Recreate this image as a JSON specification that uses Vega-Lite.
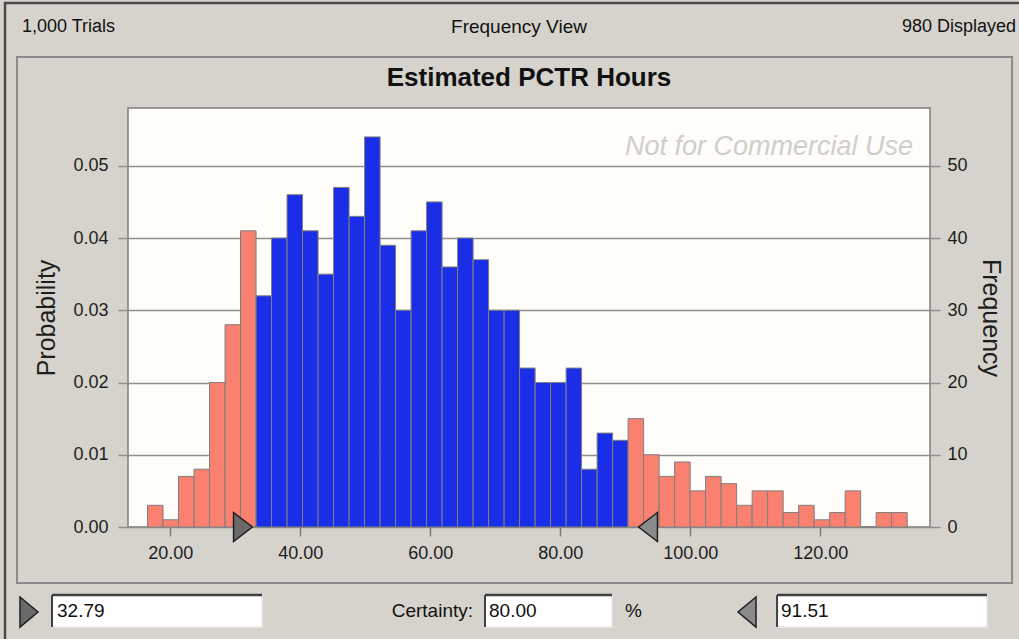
{
  "$schema": "https://vega.github.io/schema/vega-lite/v6.json",
  "width": 802,
  "height": 419,
  "autosize": {"type": "none"},
  "padding": {"left": 128, "top": 108, "right": 89, "bottom": 112},
  "background": "#d6d3cc",
  "config": {
    "view": {"fill": "#fefdf9", "stroke": "#7d7d7d", "strokeWidth": 1.5},
    "font": "Liberation Sans"
  },
  "datasets": {
    "bins": [
      {"lo": 16.50, "hi": 18.89, "count": 3, "zone": "tail"},
      {"lo": 18.89, "hi": 21.27, "count": 1, "zone": "tail"},
      {"lo": 21.27, "hi": 23.66, "count": 7, "zone": "tail"},
      {"lo": 23.66, "hi": 26.04, "count": 8, "zone": "tail"},
      {"lo": 26.04, "hi": 28.43, "count": 20, "zone": "tail"},
      {"lo": 28.43, "hi": 30.81, "count": 28, "zone": "tail"},
      {"lo": 30.81, "hi": 33.20, "count": 41, "zone": "tail"},
      {"lo": 33.20, "hi": 35.58, "count": 32, "zone": "certainty"},
      {"lo": 35.58, "hi": 37.97, "count": 40, "zone": "certainty"},
      {"lo": 37.97, "hi": 40.35, "count": 46, "zone": "certainty"},
      {"lo": 40.35, "hi": 42.74, "count": 41, "zone": "certainty"},
      {"lo": 42.74, "hi": 45.12, "count": 35, "zone": "certainty"},
      {"lo": 45.12, "hi": 47.51, "count": 47, "zone": "certainty"},
      {"lo": 47.51, "hi": 49.89, "count": 43, "zone": "certainty"},
      {"lo": 49.89, "hi": 52.28, "count": 54, "zone": "certainty"},
      {"lo": 52.28, "hi": 54.66, "count": 39, "zone": "certainty"},
      {"lo": 54.66, "hi": 57.05, "count": 30, "zone": "certainty"},
      {"lo": 57.05, "hi": 59.43, "count": 41, "zone": "certainty"},
      {"lo": 59.43, "hi": 61.82, "count": 45, "zone": "certainty"},
      {"lo": 61.82, "hi": 64.20, "count": 36, "zone": "certainty"},
      {"lo": 64.20, "hi": 66.59, "count": 40, "zone": "certainty"},
      {"lo": 66.59, "hi": 68.97, "count": 37, "zone": "certainty"},
      {"lo": 68.97, "hi": 71.36, "count": 30, "zone": "certainty"},
      {"lo": 71.36, "hi": 73.74, "count": 30, "zone": "certainty"},
      {"lo": 73.74, "hi": 76.13, "count": 22, "zone": "certainty"},
      {"lo": 76.13, "hi": 78.51, "count": 20, "zone": "certainty"},
      {"lo": 78.51, "hi": 80.90, "count": 20, "zone": "certainty"},
      {"lo": 80.90, "hi": 83.28, "count": 22, "zone": "certainty"},
      {"lo": 83.28, "hi": 85.67, "count": 8, "zone": "certainty"},
      {"lo": 85.67, "hi": 88.05, "count": 13, "zone": "certainty"},
      {"lo": 88.05, "hi": 90.44, "count": 12, "zone": "certainty"},
      {"lo": 90.44, "hi": 92.82, "count": 15, "zone": "tail"},
      {"lo": 92.82, "hi": 95.21, "count": 10, "zone": "tail"},
      {"lo": 95.21, "hi": 97.59, "count": 7, "zone": "tail"},
      {"lo": 97.59, "hi": 99.98, "count": 9, "zone": "tail"},
      {"lo": 99.98, "hi": 102.36, "count": 5, "zone": "tail"},
      {"lo": 102.36, "hi": 104.75, "count": 7, "zone": "tail"},
      {"lo": 104.75, "hi": 107.13, "count": 6, "zone": "tail"},
      {"lo": 107.13, "hi": 109.52, "count": 3, "zone": "tail"},
      {"lo": 109.52, "hi": 111.90, "count": 5, "zone": "tail"},
      {"lo": 111.90, "hi": 114.29, "count": 5, "zone": "tail"},
      {"lo": 114.29, "hi": 116.67, "count": 2, "zone": "tail"},
      {"lo": 116.67, "hi": 119.06, "count": 3, "zone": "tail"},
      {"lo": 119.06, "hi": 121.44, "count": 1, "zone": "tail"},
      {"lo": 121.44, "hi": 123.83, "count": 2, "zone": "tail"},
      {"lo": 123.83, "hi": 126.21, "count": 5, "zone": "tail"},
      {"lo": 126.21, "hi": 128.60, "count": 0, "zone": "tail"},
      {"lo": 128.60, "hi": 130.98, "count": 2, "zone": "tail"},
      {"lo": 130.98, "hi": 133.37, "count": 2, "zone": "tail"}
    ],
    "one": [{}]
  },
  "resolve": {"scale": {"y": "independent"}, "axis": {"x": "independent", "y": "independent"}},
  "layer": [
    {
      "data": {"name": "one"},
      "mark": {"type": "rect", "filled": false, "stroke": "#4a4a4a", "strokeWidth": 2.5, "clip": false},
      "encoding": {
        "x": {"datum": -5.42, "type": "quantitative", "scale": {"domain": [13.5, 136.88], "nice": false, "zero": false}, "axis": null},
        "x2": {"datum": 155},
        "y": {"datum": 72.53, "type": "quantitative", "scale": {"domain": [0, 58], "nice": false, "zero": false}, "axis": null},
        "y2": {"datum": -20}
      }
    },
    {
      "data": {"name": "one"},
      "mark": {"type": "rect", "filled": false, "stroke": "#8a8a8a", "strokeWidth": 2, "clip": false},
      "encoding": {
        "x": {"datum": -3.58, "type": "quantitative", "scale": {"domain": [13.5, 136.88], "nice": false, "zero": false}, "axis": null},
        "x2": {"datum": 149.5},
        "y": {"datum": 65.06, "type": "quantitative", "scale": {"domain": [0, 58], "nice": false, "zero": false}, "axis": null},
        "y2": {"datum": -7.75}
      }
    },
    {
      "data": {"values": [{"label": "1,000 Trials"}]},
      "mark": {"type": "text", "align": "left", "baseline": "middle", "fontSize": 18, "color": "#111111", "clip": false},
      "encoding": {
        "x": {"datum": -2.81, "type": "quantitative", "scale": {"domain": [13.5, 136.88], "nice": false, "zero": false}, "axis": null},
        "y": {"datum": 69.21, "type": "quantitative", "scale": {"domain": [0, 58], "nice": false, "zero": false}, "axis": null},
        "text": {"field": "label"}
      }
    },
    {
      "data": {"values": [{"label": "Frequency View"}]},
      "mark": {"type": "text", "align": "center", "baseline": "middle", "fontSize": 19, "color": "#111111", "clip": false},
      "encoding": {
        "x": {"datum": 73.65, "type": "quantitative", "scale": {"domain": [13.5, 136.88], "nice": false, "zero": false}, "axis": null},
        "y": {"datum": 69.21, "type": "quantitative", "scale": {"domain": [0, 58], "nice": false, "zero": false}, "axis": null},
        "text": {"field": "label"}
      }
    },
    {
      "data": {"values": [{"label": "980 Displayed"}]},
      "mark": {"type": "text", "align": "right", "baseline": "middle", "fontSize": 18, "color": "#111111", "clip": false},
      "encoding": {
        "x": {"datum": 150.12, "type": "quantitative", "scale": {"domain": [13.5, 136.88], "nice": false, "zero": false}, "axis": null},
        "y": {"datum": 69.21, "type": "quantitative", "scale": {"domain": [0, 58], "nice": false, "zero": false}, "axis": null},
        "text": {"field": "label"}
      }
    },
    {
      "data": {"values": [{"label": "Estimated PCTR Hours"}]},
      "mark": {"type": "text", "align": "center", "baseline": "middle", "fontSize": 26, "fontWeight": "bold", "color": "#111111", "clip": false},
      "encoding": {
        "x": {"datum": 75.19, "type": "quantitative", "scale": {"domain": [13.5, 136.88], "nice": false, "zero": false}, "axis": null},
        "y": {"datum": 62.15, "type": "quantitative", "scale": {"domain": [0, 58], "nice": false, "zero": false}, "axis": null},
        "text": {"field": "label"}
      }
    },
    {
      "data": {"name": "bins"},
      "mark": {"type": "bar", "stroke": "#7f7f7f", "strokeWidth": 1},
      "encoding": {
        "x": {
          "field": "lo", "type": "quantitative",
          "scale": {"domain": [13.5, 136.88], "nice": false, "zero": false},
          "axis": {
            "orient": "bottom",
            "values": [20, 40, 60, 80, 100, 120], "format": ".2f", "title": null,
            "grid": false, "domain": false, "tickColor": "#7a7a7a", "tickSize": 9, "tickWidth": 1.5,
            "labelFontSize": 18, "labelColor": "#1e1e1e", "labelPadding": 8
          }
        },
        "x2": {"field": "hi"},
        "y": {
          "field": "count", "type": "quantitative",
          "scale": {"domain": [0, 58], "nice": false, "zero": false},
          "axis": {
            "orient": "right", "values": [0, 10, 20, 30, 40, 50], "title": "Frequency",
            "grid": true, "gridColor": "#8e8e8e", "gridWidth": 1.5, "gridOpacity": 1,
            "domain": false, "tickColor": "#8e8e8e", "tickSize": 10, "tickWidth": 1.5,
            "labelFontSize": 18, "labelColor": "#1e1e1e", "labelPadding": 7,
            "titleFontSize": 25, "titleFontWeight": "normal", "titleColor": "#1e1e1e", "titlePadding": 10
          }
        },
        "y2": {"datum": 0},
        "color": {
          "field": "zone", "type": "nominal",
          "scale": {"domain": ["tail", "certainty"], "range": ["#fa8070", "#1a2ee8"]},
          "legend": null
        }
      }
    },
    {
      "data": {"name": "bins"},
      "mark": {"type": "bar", "opacity": 0},
      "encoding": {
        "x": {"field": "lo", "type": "quantitative", "scale": {"domain": [13.5, 136.88], "nice": false, "zero": false}, "axis": null},
        "x2": {"field": "hi"},
        "y": {
          "field": "count", "type": "quantitative",
          "scale": {"domain": [0, 58], "nice": false, "zero": false},
          "axis": {
            "orient": "left", "values": [0, 10, 20, 30, 40, 50], "title": "Probability",
            "labelExpr": "format(datum.value / 1000, '.2f')",
            "grid": false, "domain": false, "tickColor": "#8e8e8e", "tickSize": 10, "tickWidth": 1.5,
            "labelFontSize": 18, "labelColor": "#1e1e1e", "labelPadding": 10,
            "titleFontSize": 25, "titleFontWeight": "normal", "titleColor": "#1e1e1e", "titlePadding": 13
          }
        },
        "y2": {"datum": 0}
      }
    },
    {
      "data": {"values": [{"label": "Not for Commercial Use"}]},
      "mark": {"type": "text", "align": "right", "baseline": "middle", "fontStyle": "italic", "fontSize": 27, "color": "#cfcfc8"},
      "encoding": {
        "x": {"datum": 134.27, "type": "quantitative", "scale": {"domain": [13.5, 136.88], "nice": false, "zero": false}, "axis": null},
        "y": {"datum": 52.6, "type": "quantitative", "scale": {"domain": [0, 58], "nice": false, "zero": false}, "axis": null},
        "text": {"field": "label"}
      }
    },
    {
      "data": {"values": [{"marker": "lower certainty grabber"}]},
      "mark": {"type": "point", "shape": "M -0.65 -1 L 0.65 0 L -0.65 1 Z", "size": 841, "filled": true, "fill": "#6a6a6a", "stroke": "#1f1f1f", "strokeWidth": 1.5, "opacity": 1, "clip": false},
      "encoding": {
        "x": {"datum": 31.19, "type": "quantitative", "scale": {"domain": [13.5, 136.88], "nice": false, "zero": false}, "axis": null},
        "y": {"datum": 0, "type": "quantitative", "scale": {"domain": [0, 58], "nice": false, "zero": false}, "axis": null}
      }
    },
    {
      "data": {"values": [{"marker": "upper certainty grabber"}]},
      "mark": {"type": "point", "shape": "M 0.65 -1 L -0.65 0 L 0.65 1 Z", "size": 841, "filled": true, "fill": "#8a8a8a", "stroke": "#1f1f1f", "strokeWidth": 1.5, "opacity": 1, "clip": false},
      "encoding": {
        "x": {"datum": 93.5, "type": "quantitative", "scale": {"domain": [13.5, 136.88], "nice": false, "zero": false}, "axis": null},
        "y": {"datum": 0, "type": "quantitative", "scale": {"domain": [0, 58], "nice": false, "zero": false}, "axis": null}
      }
    },
    {
      "data": {"values": [{"marker": "lower field grabber"}]},
      "mark": {"type": "point", "shape": "M -0.6 -1 L 0.6 0 L -0.6 1 Z", "size": 900, "filled": true, "fill": "#6a6a6a", "stroke": "#1f1f1f", "strokeWidth": 1.5, "opacity": 1, "clip": false},
      "encoding": {
        "x": {"datum": -1.73, "type": "quantitative", "scale": {"domain": [13.5, 136.88], "nice": false, "zero": false}, "axis": null},
        "y": {"datum": -11.77, "type": "quantitative", "scale": {"domain": [0, 58], "nice": false, "zero": false}, "axis": null}
      }
    },
    {
      "data": {"values": [{"marker": "upper field grabber"}]},
      "mark": {"type": "point", "shape": "M 0.6 -1 L -0.6 0 L 0.6 1 Z", "size": 900, "filled": true, "fill": "#8a8a8a", "stroke": "#1f1f1f", "strokeWidth": 1.5, "opacity": 1, "clip": false},
      "encoding": {
        "x": {"datum": 108.73, "type": "quantitative", "scale": {"domain": [13.5, 136.88], "nice": false, "zero": false}, "axis": null},
        "y": {"datum": -11.77, "type": "quantitative", "scale": {"domain": [0, 58], "nice": false, "zero": false}, "axis": null}
      }
    },
    {
      "data": {"name": "one"},
      "mark": {"type": "rect", "fill": "#ffffff", "stroke": "#e8e8e8", "strokeWidth": 1.5, "clip": false},
      "encoding": {
        "x": {"datum": 1.81, "type": "quantitative", "scale": {"domain": [13.5, 136.88], "nice": false, "zero": false}, "axis": null},
        "x2": {"datum": 34.12},
        "y": {"datum": -9.41, "type": "quantitative", "scale": {"domain": [0, 58], "nice": false, "zero": false}, "axis": null},
        "y2": {"datum": -13.84}
      }
    },
    {
      "data": {"name": "one"},
      "mark": {"type": "rect", "fill": "#ffffff", "stroke": "#e8e8e8", "strokeWidth": 1.5, "clip": false},
      "encoding": {
        "x": {"datum": 68.42, "type": "quantitative", "scale": {"domain": [13.5, 136.88], "nice": false, "zero": false}, "axis": null},
        "x2": {"datum": 87.96},
        "y": {"datum": -9.41, "type": "quantitative", "scale": {"domain": [0, 58], "nice": false, "zero": false}, "axis": null},
        "y2": {"datum": -13.84}
      }
    },
    {
      "data": {"name": "one"},
      "mark": {"type": "rect", "fill": "#ffffff", "stroke": "#e8e8e8", "strokeWidth": 1.5, "clip": false},
      "encoding": {
        "x": {"datum": 113.35, "type": "quantitative", "scale": {"domain": [13.5, 136.88], "nice": false, "zero": false}, "axis": null},
        "x2": {"datum": 145.65},
        "y": {"datum": -9.41, "type": "quantitative", "scale": {"domain": [0, 58], "nice": false, "zero": false}, "axis": null},
        "y2": {"datum": -13.84}
      }
    },
    {
      "data": {"name": "one"},
      "mark": {"type": "rule", "stroke": "#404040", "strokeWidth": 2.5, "clip": false},
      "encoding": {
        "x": {"datum": 1.81, "type": "quantitative", "scale": {"domain": [13.5, 136.88], "nice": false, "zero": false}, "axis": null},
        "x2": {"datum": 34.12},
        "y": {"datum": -9.41, "type": "quantitative", "scale": {"domain": [0, 58], "nice": false, "zero": false}, "axis": null}
      }
    },
    {
      "data": {"name": "one"},
      "mark": {"type": "rule", "stroke": "#404040", "strokeWidth": 2, "clip": false},
      "encoding": {
        "x": {"datum": 1.81, "type": "quantitative", "scale": {"domain": [13.5, 136.88], "nice": false, "zero": false}, "axis": null},
        "y": {"datum": -9.41, "type": "quantitative", "scale": {"domain": [0, 58], "nice": false, "zero": false}, "axis": null},
        "y2": {"datum": -13.84}
      }
    },
    {
      "data": {"name": "one"},
      "mark": {"type": "rule", "stroke": "#404040", "strokeWidth": 2.5, "clip": false},
      "encoding": {
        "x": {"datum": 68.42, "type": "quantitative", "scale": {"domain": [13.5, 136.88], "nice": false, "zero": false}, "axis": null},
        "x2": {"datum": 87.96},
        "y": {"datum": -9.41, "type": "quantitative", "scale": {"domain": [0, 58], "nice": false, "zero": false}, "axis": null}
      }
    },
    {
      "data": {"name": "one"},
      "mark": {"type": "rule", "stroke": "#404040", "strokeWidth": 2, "clip": false},
      "encoding": {
        "x": {"datum": 68.42, "type": "quantitative", "scale": {"domain": [13.5, 136.88], "nice": false, "zero": false}, "axis": null},
        "y": {"datum": -9.41, "type": "quantitative", "scale": {"domain": [0, 58], "nice": false, "zero": false}, "axis": null},
        "y2": {"datum": -13.84}
      }
    },
    {
      "data": {"name": "one"},
      "mark": {"type": "rule", "stroke": "#404040", "strokeWidth": 2.5, "clip": false},
      "encoding": {
        "x": {"datum": 113.35, "type": "quantitative", "scale": {"domain": [13.5, 136.88], "nice": false, "zero": false}, "axis": null},
        "x2": {"datum": 145.65},
        "y": {"datum": -9.41, "type": "quantitative", "scale": {"domain": [0, 58], "nice": false, "zero": false}, "axis": null}
      }
    },
    {
      "data": {"name": "one"},
      "mark": {"type": "rule", "stroke": "#404040", "strokeWidth": 2, "clip": false},
      "encoding": {
        "x": {"datum": 113.35, "type": "quantitative", "scale": {"domain": [13.5, 136.88], "nice": false, "zero": false}, "axis": null},
        "y": {"datum": -9.41, "type": "quantitative", "scale": {"domain": [0, 58], "nice": false, "zero": false}, "axis": null},
        "y2": {"datum": -13.84}
      }
    },
    {
      "data": {"values": [{"label": "32.79"}]},
      "mark": {"type": "text", "align": "left", "baseline": "middle", "fontSize": 19, "color": "#111111", "clip": false},
      "encoding": {
        "x": {"datum": 2.58, "type": "quantitative", "scale": {"domain": [13.5, 136.88], "nice": false, "zero": false}, "axis": null},
        "y": {"datum": -11.63, "type": "quantitative", "scale": {"domain": [0, 58], "nice": false, "zero": false}, "axis": null},
        "text": {"field": "label"}
      }
    },
    {
      "data": {"values": [{"label": "Certainty:"}]},
      "mark": {"type": "text", "align": "right", "baseline": "middle", "fontSize": 19, "color": "#111111", "clip": false},
      "encoding": {
        "x": {"datum": 66.58, "type": "quantitative", "scale": {"domain": [13.5, 136.88], "nice": false, "zero": false}, "axis": null},
        "y": {"datum": -11.63, "type": "quantitative", "scale": {"domain": [0, 58], "nice": false, "zero": false}, "axis": null},
        "text": {"field": "label"}
      }
    },
    {
      "data": {"values": [{"label": "80.00"}]},
      "mark": {"type": "text", "align": "left", "baseline": "middle", "fontSize": 19, "color": "#111111", "clip": false},
      "encoding": {
        "x": {"datum": 69.04, "type": "quantitative", "scale": {"domain": [13.5, 136.88], "nice": false, "zero": false}, "axis": null},
        "y": {"datum": -11.63, "type": "quantitative", "scale": {"domain": [0, 58], "nice": false, "zero": false}, "axis": null},
        "text": {"field": "label"}
      }
    },
    {
      "data": {"values": [{"label": "%"}]},
      "mark": {"type": "text", "align": "left", "baseline": "middle", "fontSize": 19, "color": "#111111", "clip": false},
      "encoding": {
        "x": {"datum": 89.96, "type": "quantitative", "scale": {"domain": [13.5, 136.88], "nice": false, "zero": false}, "axis": null},
        "y": {"datum": -11.63, "type": "quantitative", "scale": {"domain": [0, 58], "nice": false, "zero": false}, "axis": null},
        "text": {"field": "label"}
      }
    },
    {
      "data": {"values": [{"label": "91.51"}]},
      "mark": {"type": "text", "align": "left", "baseline": "middle", "fontSize": 19, "color": "#111111", "clip": false},
      "encoding": {
        "x": {"datum": 113.96, "type": "quantitative", "scale": {"domain": [13.5, 136.88], "nice": false, "zero": false}, "axis": null},
        "y": {"datum": -11.63, "type": "quantitative", "scale": {"domain": [0, 58], "nice": false, "zero": false}, "axis": null},
        "text": {"field": "label"}
      }
    }
  ]
}
